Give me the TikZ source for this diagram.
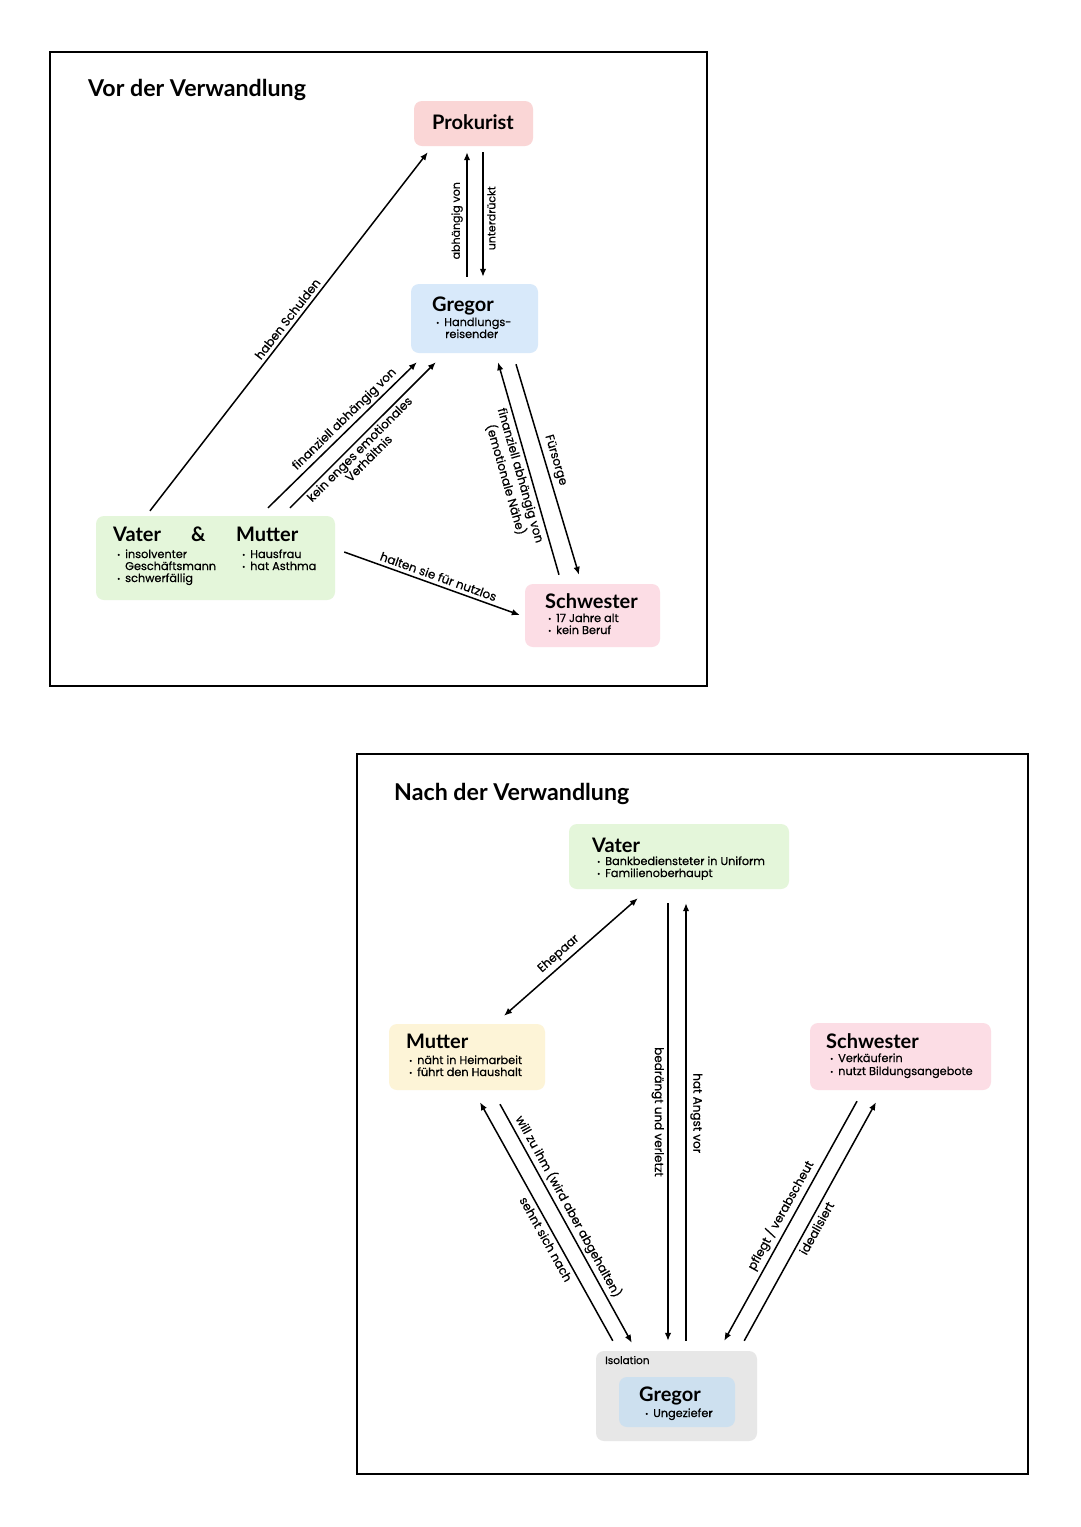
\documentclass[tikz,border=0pt]{standalone}
\usepackage{fontspec}
\setmainfont{Lato}
\newfontfamily\hand{Poppins}[FakeBold=0.5]
\usetikzlibrary{arrows.meta,calc}
\definecolor{pkpink}{HTML}{FAD6D6}
\definecolor{grblue}{HTML}{D8E9FA}
\definecolor{vmgreen}{HTML}{E4F6DA}
\definecolor{swpink}{HTML}{FCDDE5}
\definecolor{mtyellow}{HTML}{FDF4D7}
\definecolor{isogrey}{HTML}{E7E7E7}
\definecolor{gr2blue}{HTML}{CDE0EF}
\newcommand\bul{\makebox[8pt][l]{\raisebox{0.6pt}{\fontsize{7.5}{7.5}\selectfont\textbullet}}}
\tikzset{
  box/.style={rectangle, rounded corners=8pt, draw=none, inner sep=0pt},
  title/.style={font=\fontsize{23.2}{26}\selectfont\bfseries, inner sep=0pt, anchor=base west},
  head/.style={font=\fontsize{20}{22}\selectfont\bfseries, inner sep=0pt, anchor=base west},
  item/.style={font=\hand\fontsize{11.3}{12}\selectfont, inner sep=0pt, anchor=base west},
  lbl/.style={font=\hand\fontsize{12}{13}\selectfont, inner sep=3.5pt, align=center},
  arr/.style={line width=1.5pt, -{Latex[length=8pt,width=6.5pt]}},
  rarr/.style={line width=1.5pt, {Latex[length=8pt,width=6.5pt]}-},
  darr/.style={line width=1.5pt, {Latex[length=8pt,width=6.5pt]}-{Latex[length=8pt,width=6.5pt]}},
  frame/.style={line width=1.5pt}
}
\begin{document}
\begin{tikzpicture}[x=1pt,y=-1pt]
\useasboundingbox (0,0) rectangle (1080,1527);
\fill[white] (0,0) rectangle (1080,1527);

% ---------- top frame ----------
\draw[frame] (50,52) rectangle (707,686);
\node[title] (t1) at (88,96) {Vor der Verwandlung};

\node[box, fill=pkpink, minimum width=119pt, minimum height=45pt] (prok) at (473.5,123.5) {};
\node[head] (prokh) at (432,129) {Prokurist};

\node[box, fill=grblue, minimum width=127pt, minimum height=69pt] (greg1) at (474.5,318.5) {};
\node[head] (greg1h) at (432,311) {Gregor};
\node[item] (greg1a) at (436,326) {\bul Handlungs-};
\node[item] (greg1b) at (445,338) {reisender};

\node[box, fill=vmgreen, minimum width=239pt, minimum height=84pt] (vm) at (215.5,558) {};
\node[head] (vmh1) at (113,541) {Vater};
\node[head] (vmh2) at (191,541) {\&};
\node[head] (vmh3) at (236,541) {Mutter};
\node[item] (vma) at (117,558) {\bul insolventer};
\node[item] (vmb) at (125,570) {Geschäftsmann};
\node[item] (vmc) at (117,582) {\bul schwerfällig};
\node[item] (vmd) at (242,558) {\bul Hausfrau};
\node[item] (vme) at (242,570) {\bul hat Asthma};

\node[box, fill=swpink, minimum width=135pt, minimum height=63pt] (schw1) at (592.5,615.5) {};
\node[head] (schw1h) at (545,608) {Schwester};
\node[item] (schw1a) at (548,622) {\bul 17 Jahre alt};
\node[item] (schw1b) at (548,634) {\bul kein Beruf};

% top connectors
\draw[arr] ($(vm.north)+(-65.5,-5)$) -- node[lbl, sloped, above, pos=0.52] (l1) {haben Schulden} ($(prok.south west)+(14,6)$);
\draw[arr] ($(vm.north)+(52.5,-8)$) -- node[lbl, sloped, above, pos=0.56, inner sep=2.5pt] (l2) {finanziell abhängig von} ($(greg1.south west)+(6,9)$);
\draw[arr] ($(vm.north)+(74.5,-8)$) -- node[lbl, sloped, below, pos=0.44, inner sep=2pt] (l3) {kein enges emotionales\\Verhältnis} ($(greg1.south west)+(25,9)$);
\draw[arr] ($(greg1.north)+(-7.5,-7)$) -- node[lbl, font=\hand\fontsize{11}{12}\selectfont, rotate=90, anchor=south, pos=0.45] (l4) {abhängig von} ($(prok.south)+(-6.5,6)$);
\draw[rarr] ($(greg1.north)+(8.5,-7)$) -- node[lbl, font=\hand\fontsize{11}{12}\selectfont, rotate=90, anchor=north, pos=0.47] (l5) {unterdrückt} ($(prok.south)+(9.5,6)$);
\draw[rarr] ($(greg1.south)+(23.5,9)$) -- node[lbl, sloped, below, pos=0.52, inner sep=3.5pt] (l6) {finanziell abhängig von\\(emotionale Nähe)} ($(schw1.north)+(-33.5,-9)$);
\draw[arr] ($(greg1.south)+(41.5,11)$) -- node[lbl, sloped, above, pos=0.47] (l7) {Fürsorge} ($(schw1.north)+(-13.5,-9)$);
\draw[arr] ($(vm.east)+(9,-6)$) -- node[lbl, sloped, above, pos=0.52] (l8) {halten sie für nutzlos} ($(schw1.west)+(-5,-0.5)$);

% ---------- bottom frame ----------
\draw[frame] (357,754) rectangle (1028,1474);
\node[title] (t2) at (394,800) {Nach der Verwandlung};

\node[box, fill=vmgreen, minimum width=220pt, minimum height=65pt] (vater2) at (679,856.5) {};
\node[head] (vater2h) at (592,852) {Vater};
\node[item] (vater2a) at (597,865) {\bul Bankbediensteter in Uniform};
\node[item] (vater2b) at (597,877) {\bul Familienoberhaupt};

\node[box, fill=mtyellow, minimum width=156pt, minimum height=66pt] (mutter2) at (467,1057) {};
\node[head] (mutter2h) at (406,1048) {Mutter};
\node[item] (mutter2a) at (409,1064) {\bul näht in Heimarbeit};
\node[item] (mutter2b) at (409,1076) {\bul führt den Haushalt};

\node[box, fill=swpink, minimum width=181pt, minimum height=67pt] (schw2) at (900.5,1056.5) {};
\node[head] (schw2h) at (826,1048) {Schwester};
\node[item] (schw2a) at (830,1062) {\bul Verkäuferin};
\node[item] (schw2b) at (830,1075) {\bul nutzt Bildungsangebote};

\node[box, fill=isogrey, minimum width=161pt, minimum height=90pt] (iso) at (676.5,1396) {};
\node[item, font=\hand\fontsize{10.5}{11}\selectfont] (isol) at (605,1364) {Isolation};
\node[box, fill=gr2blue, minimum width=116pt, minimum height=50pt] (greg2) at (677,1402) {};
\node[head] (greg2h) at (639,1401) {Gregor};
\node[item] (greg2a) at (645,1417) {\bul Ungeziefer};

% bottom connectors
\draw[darr] ($(mutter2.north)+(37,-8)$) -- node[lbl, sloped, above, pos=0.46] (m1) {Ehepaar} ($(vater2.south west)+(69,9)$);
\draw[arr] ($(vater2.south)+(-11,14)$) -- node[lbl, rotate=-90, anchor=north, pos=0.477] (m2) {bedrängt und verletzt} ($(iso.north)+(-8.5,-10)$);
\draw[rarr] ($(vater2.south)+(7,14)$) -- node[lbl, rotate=-90, anchor=south, pos=0.48] (m3) {hat Angst vor} ($(iso.north)+(9.5,-10)$);
\draw[rarr] ($(mutter2.south)+(13,12)$) -- node[lbl, sloped, below, pos=0.556] (m4) {sehnt sich nach} ($(iso.north west)+(17,-10)$);
\draw[arr] ($(mutter2.south)+(33,14)$) -- node[lbl, sloped, above, pos=0.45, inner sep=2.5pt] (m5) {will zu ihm (wird aber abgehalten)} ($(iso.north west)+(36,-8)$);
\draw[rarr] ($(iso.north east)+(-33,-10)$) -- node[lbl, sloped, above, pos=0.5] (m6) {pflegt / verabscheut} ($(schw2.south)+(-43.5,11)$);
\draw[arr] ($(iso.north east)+(-13,-10)$) -- node[lbl, sloped, below, pos=0.49] (m7) {idealisiert} ($(schw2.south)+(-24.5,12)$);
\end{tikzpicture}
\end{document}
